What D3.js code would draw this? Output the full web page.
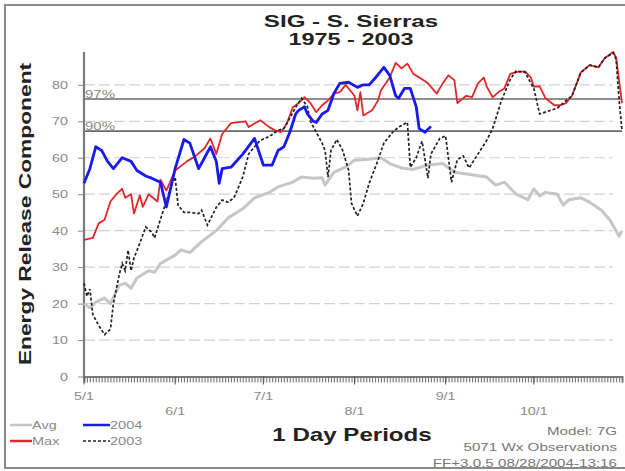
<!DOCTYPE html>
<html>
<head>
<meta charset="utf-8">
<script src="https://cdn.jsdelivr.net/npm/d3@7"></script>
<style>
  body { margin: 0; background: #fff; }
  svg { display: block; font-family: "Liberation Sans", Arial, sans-serif; }
</style>
</head>
<body>
<div id="chart"></div>
<script>
// ERC, SIG - S. Sierras. Days are counted from May 1.
const monthLabels = ["5/1", "6/1", "7/1", "8/1", "9/1", "10/1"];
const yTicks = [0, 10, 20, 30, 40, 50, 60, 70, 80];
const refLabels = ["97%", "90%"];
const refValues = [76.1, 67.3];

const avgSeries = [[0,20],[2,18.8],[4,20.4],[7,21.5],[9,20],[12,25],[14,25.6],[16,24.2],[18,27],[22,29],[24,28.6],
  [26,31],[31,33.3],[33,34.7],[36,34],[40,37],[45,40],[49,43.5],[54,46],[58,49],[63,50.5],[66,52],[71,53.3],
  [74,54.7],[78,54.4],[81,54.5],[82,52.5],[85,56],[89,57.5],[92,59.3],[97,59.6],[101,60],[104,58.4],[108,57.2],
  [112,56.8],[117,58],[122,58.4],[126,56],[129,55.7],[133,55.2],[137,54.7],[140,52.5],[143,53.3],[147,50],
  [151,48.5],[153,51.5],[155,49.5],[157,50.5],[161,50],[163,47],[165,48.5],[169,49],[172,47.8],[176,45.6],
  [179,42.8],[182,38.5],[183,40]];

const maxSeries = [[0,37.5],[3,38],[5,42],[7,43],[9,48],[11,50],[13,51.5],[14,49],[16,50],[17,44.7],[19,49.7],
  [20,46.5],[22,50],[25,48],[26,54],[28,51],[31,56.5],[35,59],[38,60.5],[41,62.6],[43,65.3],[45,61],[47,66.5],
  [50,69.5],[55,70],[56,68.4],[58,69.4],[60,70.3],[63,68.4],[65,67.5],[67,67],[69,69.4],[71,73.8],[73,75],
  [75,76.6],[77,75],[79,72.5],[81,74.4],[83,75.7],[85,77.6],[87,78],[89,80],[92,77],[93,73],[94,78],[95,71.6],
  [98,73],[100,75.7],[101,78.5],[104,82],[106,86],[108,84.5],[110,85.8],[112,83],[115,81.5],[117,80.4],
  [120,77.6],[122,80.4],[124,82.6],[126,81.2],[127,75],[130,77],[132,76.6],[134,80.4],[136,82],[137,79.5],
  [139,76.6],[141,78],[143,79],[145,83],[147,83.5],[150,83.7],[152,82],[153,79.5],[155,79.6],[157,76.3],
  [160,74.4],[162,74.4],[164,75],[166,77],[169,83.4],[172,85.4],[175,84.8],[177,87.2],[180,89],[181,87.5],[183,75]];

const series2003 = [[0,25.6],[1,22],[2,24],[3,17],[5,14],[7,11.5],[9,13],[10,20],[12,28],[13,31],[14,29],[15,34.6],
  [16,29],[17,32.5],[19,36.6],[21,41],[23,39.6],[24,38],[27,45.6],[30,53],[31,54.7],[32,47],[34,45],[36,45],
  [39,44.7],[40,45.6],[42,41.5],[45,46.4],[47,48.4],[49,47.8],[51,49],[54,54.7],[56,61],[58,63],[60,64.8],
  [63,65.8],[66,67.5],[68,68],[72,73.8],[74,76.3],[76,74],[77,70],[79,67],[81,64],[82,62],[83,54.7],[84,62],
  [86,65],[88,62],[90,56.6],[91,47.5],[93,44],[95,47.5],[97,53],[100,59.3],[102,64],[105,67],[107,68.4],
  [110,69.7],[111,57.4],[113,60],[115,64.5],[117,54.4],[118,61],[121,65.3],[123,66],[125,53.3],[127,59.5],
  [129,60.5],[131,57.2],[134,61],[137,64.8],[139,68],[142,75.7],[145,81.5],[147,83.8],[150,83.5],[152,80.4],
  [153,79],[155,72],[158,72.8],[161,73.6],[163,75],[166,77],[169,83.4],[172,85.4],[175,84.8],[177,87.2],
  [180,88.8],[181,87],[182,76],[183,67.5]];

const series2004 = [[0,53],[2,57],[4,63],[6,62],[8,59],[10,57],[13,60],[16,59],[18,56.5],[21,55],[23,54.4],
  [26,53.3],[28,46.5],[29,50],[31,57],[34,65],[36,64],[39,57],[41,60],[43,63],[45,59],[46,53],[47,57],[50,57.4],
  [54,61],[58,65.3],[61,58],[64,58],[66,62],[68,63],[70,67],[72,72],[73,73],[75,74],[76,72],[78,70],[79,69.7],
  [81,72],[83,73],[85,77.6],[87,80.4],[90,80.7],[93,79.3],[95,80],[97,80],[99,81.8],[102,84.8],[104,82.6],
  [106,77],[107,76.3],[109,79],[111,79],[113,74],[114,68],[116,67],[118,68.6]];

const width = 625, height = 471;
const plot = { left: 84, right: 622, top: 52, bottom: 376.5 };

const svg = d3.select("#chart").append("svg")
  .attr("width", width)
  .attr("height", height);

// the original lettering is wide, so stretch text along its baseline
function stretch(sel, k) {
  sel.each(function() {
    const t = d3.select(this);
    const tx = +t.attr("x") || 0, ty = +t.attr("y") || 0;
    t.attr("x", 0).attr("y", 0).attr("transform", `translate(${tx},${ty}) scale(${k},1)`);
  });
}

const start = new Date(2004, 4, 1);
const dayDate = d => new Date(2004, 4, 1 + d);

const x = d3.scaleTime()
  .domain([start, dayDate(183)])
  .range([plot.left, plot.right]);

const y = d3.scaleLinear()
  .domain([0, 89])
  .range([plot.bottom, plot.top]);

// outer frame
svg.append("rect")
  .attr("x", 5).attr("y", 5)
  .attr("width", 630).attr("height", 463)
  .attr("fill", "none")
  .attr("stroke", "#8a8a8a")
  .attr("stroke-width", 2);

// dashed grid
svg.append("g")
  .selectAll("line")
  .data(yTicks.filter(v => v > 0))
  .join("line")
  .attr("x1", plot.left).attr("x2", 613)
  .attr("y1", d => y(d)).attr("y2", d => y(d))
  .attr("stroke", "#d2d2d2")
  .attr("stroke-width", 1.2)
  .attr("stroke-dasharray", "11,4");

// 97% / 90% lines
const refs = svg.append("g");
refs.selectAll("line")
  .data(refValues)
  .join("line")
  .attr("x1", plot.left).attr("x2", plot.right)
  .attr("y1", d => y(d)).attr("y2", d => y(d))
  .attr("stroke", "#6a6a6a")
  .attr("stroke-width", 1.6);
refs.selectAll("text")
  .data(refValues)
  .join("text")
  .attr("x", plot.left + 1)
  .attr("y", d => y(d) - 1)
  .attr("font-size", 11)
  .attr("fill", "#8a8a8a")
  .text((d, i) => refLabels[i])
  .call(stretch, 1.36);

// y axis
const yAxis = svg.append("g")
  .attr("transform", `translate(${plot.left},0)`)
  .call(d3.axisLeft(y).tickValues(yTicks).tickSize(6).tickPadding(10));
yAxis.select(".domain").remove();
yAxis.selectAll(".tick line").attr("stroke", "#8a8a8a");
yAxis.selectAll(".tick text")
  .attr("font-family", "Liberation Sans, Arial, sans-serif")
  .attr("font-size", 11)
  .attr("fill", "#8a8a8a")
  .call(stretch, 1.3);
svg.append("line")
  .attr("x1", plot.left).attr("x2", plot.left)
  .attr("y1", plot.top).attr("y2", plot.bottom)
  .attr("stroke", "#7a7a7a")
  .attr("stroke-width", 2.2);

// x axis: one tick per day, labels staggered by month
const xAxis = svg.append("g")
  .attr("transform", `translate(0,${plot.bottom})`)
  .call(d3.axisBottom(x).ticks(d3.timeDay.every(1)).tickSize(6).tickFormat(""));
xAxis.select(".domain").attr("stroke", "#7a7a7a").attr("stroke-width", 2);
xAxis.selectAll(".tick line").attr("stroke", "#777").attr("stroke-width", 1.1);

const monthDates = monthLabels.map((m, i) => new Date(2004, 4 + i, 1));
svg.append("g")
  .selectAll("line")
  .data(monthDates)
  .join("line")
  .attr("x1", d => x(d)).attr("x2", d => x(d))
  .attr("y1", plot.bottom).attr("y2", plot.bottom + 8)
  .attr("stroke", "#555");
svg.append("g")
  .selectAll("text")
  .data(monthDates)
  .join("text")
  .attr("x", d => x(d))
  .attr("y", (d, i) => i % 2 === 0 ? 400 : 415)
  .attr("text-anchor", "middle")
  .attr("font-size", 11)
  .attr("fill", "#8a8a8a")
  .text((d, i) => monthLabels[i])
  .call(stretch, 1.3);

// series
const line = d3.line()
  .x(d => x(dayDate(d[0])))
  .y(d => y(d[1]));

svg.append("path").datum(avgSeries)
  .attr("d", line).attr("fill", "none")
  .attr("stroke", "#c6c6c6").attr("stroke-width", 3).attr("stroke-linejoin", "round");
svg.append("path").datum(maxSeries)
  .attr("d", line).attr("fill", "none")
  .attr("stroke", "#e2282a").attr("stroke-width", 1.8).attr("stroke-linejoin", "round");
svg.append("path").datum(series2003)
  .attr("d", line).attr("fill", "none")
  .attr("stroke", "#222").attr("stroke-width", 1.7).attr("stroke-dasharray", "3,2");
svg.append("path").datum(series2004)
  .attr("d", line).attr("fill", "none")
  .attr("stroke", "#1a1aee").attr("stroke-width", 2.8).attr("stroke-linejoin", "round");

// titles
svg.append("text")
  .attr("x", 351).attr("y", 27)
  .attr("text-anchor", "middle")
  .attr("font-size", 17).attr("font-weight", "bold").attr("fill", "#222")
  .text("SIG - S. Sierras")
  .call(stretch, 1.42);
svg.append("text")
  .attr("x", 351).attr("y", 45)
  .attr("text-anchor", "middle")
  .attr("font-size", 17).attr("font-weight", "bold").attr("fill", "#222")
  .text("1975 - 2003")
  .call(stretch, 1.38);
svg.append("text")
  .attr("transform", "translate(31,214) rotate(-90) scale(1.34,1)")
  .attr("text-anchor", "middle")
  .attr("font-size", 17).attr("font-weight", "bold").attr("fill", "#222")
  .text("Energy Release Component");
svg.append("text")
  .attr("x", 352).attr("y", 441)
  .attr("text-anchor", "middle")
  .attr("font-size", 18).attr("font-weight", "bold").attr("fill", "#222")
  .text("1 Day Periods")
  .call(stretch, 1.34);

// legend
const legendItems = [
  { name: "Avg", color: "#c6c6c6", width: 2.5, dash: null, x: 10, y: 425 },
  { name: "Max", color: "#e2282a", width: 2.5, dash: null, x: 10, y: 441 },
  { name: "2004", color: "#1a1aee", width: 2.5, dash: null, x: 83, y: 425 },
  { name: "2003", color: "#222", width: 1.5, dash: "3,2", x: 83, y: 441 }
];
const legend = svg.append("g")
  .selectAll("g")
  .data(legendItems)
  .join("g")
  .attr("transform", d => `translate(${d.x},${d.y})`);
legend.append("line")
  .attr("x1", 0).attr("x2", d => d.x > 50 ? 27 : 22)
  .attr("stroke", d => d.color)
  .attr("stroke-width", d => d.width)
  .attr("stroke-dasharray", d => d.dash);
legend.append("text")
  .attr("x", d => d.x > 50 ? 27 : 22)
  .attr("y", 4)
  .attr("font-size", 11)
  .attr("fill", "#8a8a8a")
  .text(d => d.name)
  .call(stretch, 1.32);

// footnotes
const notes = ["Model: 7G", "5071 Wx Observations", "FF+3.0.5 08/28/2004-13:16"];
svg.append("g")
  .selectAll("text")
  .data(notes)
  .join("text")
  .attr("x", 617)
  .attr("y", (d, i) => 435 + i * 16)
  .attr("text-anchor", "end")
  .attr("font-size", 11)
  .attr("fill", "#777")
  .text(d => d)
  .call(stretch, 1.38);
</script>
</body>
</html>
